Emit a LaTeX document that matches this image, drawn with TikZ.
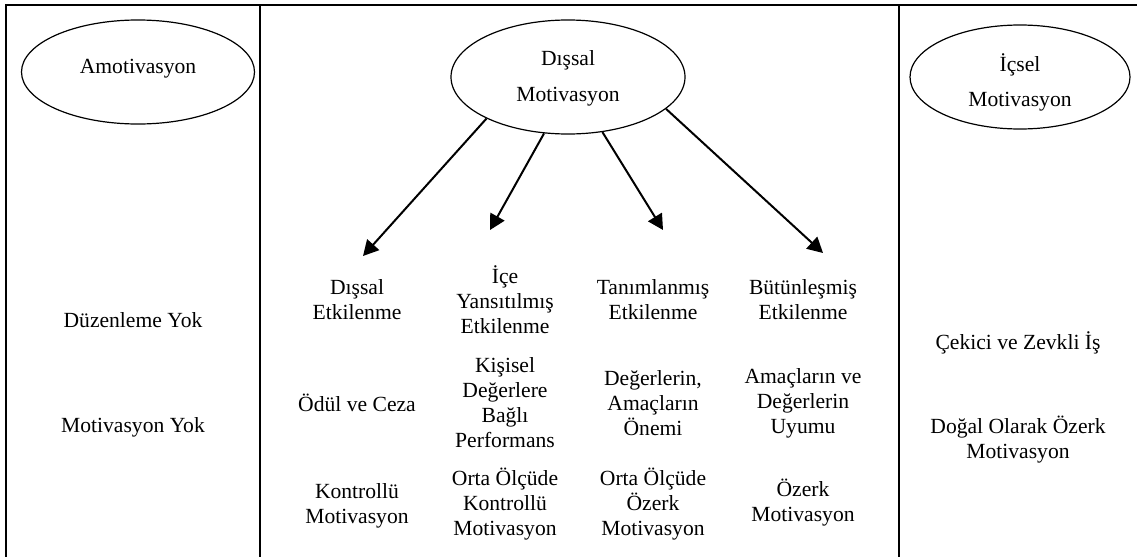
\documentclass[tikz,border=0pt]{standalone}
\usepackage{fontspec}
\setmainfont{Liberation Serif}
\usetikzlibrary{shapes.geometric,arrows.meta}
\begin{document}
\begin{tikzpicture}[x=0.75pt,y=-0.75pt,
  every node/.style={font=\fontsize{16.2}{18.75}\selectfont, align=center, inner sep=0pt},
  oval/.style={draw, ellipse, line width=0.9pt},
  frame/.style={line width=1.9pt},
  arr/.style={line width=1.5pt, -{Triangle[length=11.5pt,width=12pt]}},
  cell/.style={}]
\useasboundingbox (0,0) rectangle (1137,557);
% frame
\draw[frame] (5,5) -- (1137,5);
\draw[frame] (6,5) -- (6,557);
\draw[frame] (260,5) -- (260,557);
\draw[frame] (899,5) -- (899,557);
% ellipses
\node[oval, minimum width=174.75pt, minimum height=78pt] (am) at (138,72) {};
\node (amt) at (138,69) {Amotivasyon};
\node[oval, minimum width=175.5pt, minimum height=85.5pt] (dm) at (568,77) {};
\node (dmt) at (568,78) {Dışsal\\[8.25pt]Motivasyon};
\node[oval, minimum width=165pt, minimum height=78pt] (im) at (1020,77) {};
\node (imt) at (1020,82) {İçsel\\[7.5pt]Motivasyon};
% arrow tips
\coordinate (t1) at (363,256);
\coordinate (t2) at (490,230);
\coordinate (t3) at (663,230);
\coordinate (t4) at (823,253);
\draw[arr] (dm.207.7) -- (t1);
\draw[arr] (dm.247.7) -- (t2);
\draw[arr] (dm.302) -- (t3);
\draw[arr] (dm.342.5) -- (t4);
% left column
\node[cell] (n1) at (133,320) {Düzenleme Yok};
\node[cell] (n2) at (133,427) {Motivasyon Yok};
% column 1
\node[cell] (c1a) at (357,300) {Dışsal\\Etkilenme};
\node[cell] (c1b) at (357,403) {Ödül ve Ceza};
\node[cell] (c1c) at (357,506) {Kontrollü\\Motivasyon};
% column 2
\node[cell] (c2a) at (505,300) {İçe\\Yansıtılmış\\Etkilenme};
\node[cell] (c2b) at (505,403) {Kişisel\\Değerlere\\Bağlı\\Performans};
\node[cell] (c2c) at (505,504) {Orta Ölçüde\\Kontrollü\\Motivasyon};
% column 3
\node[cell] (c3a) at (653,300) {Tanımlanmış\\Etkilenme};
\node[cell] (c3b) at (653,403) {Değerlerin,\\Amaçların\\Önemi};
\node[cell] (c3c) at (653,504) {Orta Ölçüde\\Özerk\\Motivasyon};
% column 4
\node[cell] (c4a) at (803,300) {Bütünleşmiş\\Etkilenme};
\node[cell] (c4b) at (803,403) {Amaçların ve\\Değerlerin\\Uyumu};
\node[cell] (c4c) at (803,503) {Özerk\\Motivasyon};
% right column
\node[cell] (r1) at (1018,343) {Çekici ve Zevkli İş};
\node[cell] (r2) at (1018,440) {Doğal Olarak Özerk\\Motivasyon};
\end{tikzpicture}
\end{document}
